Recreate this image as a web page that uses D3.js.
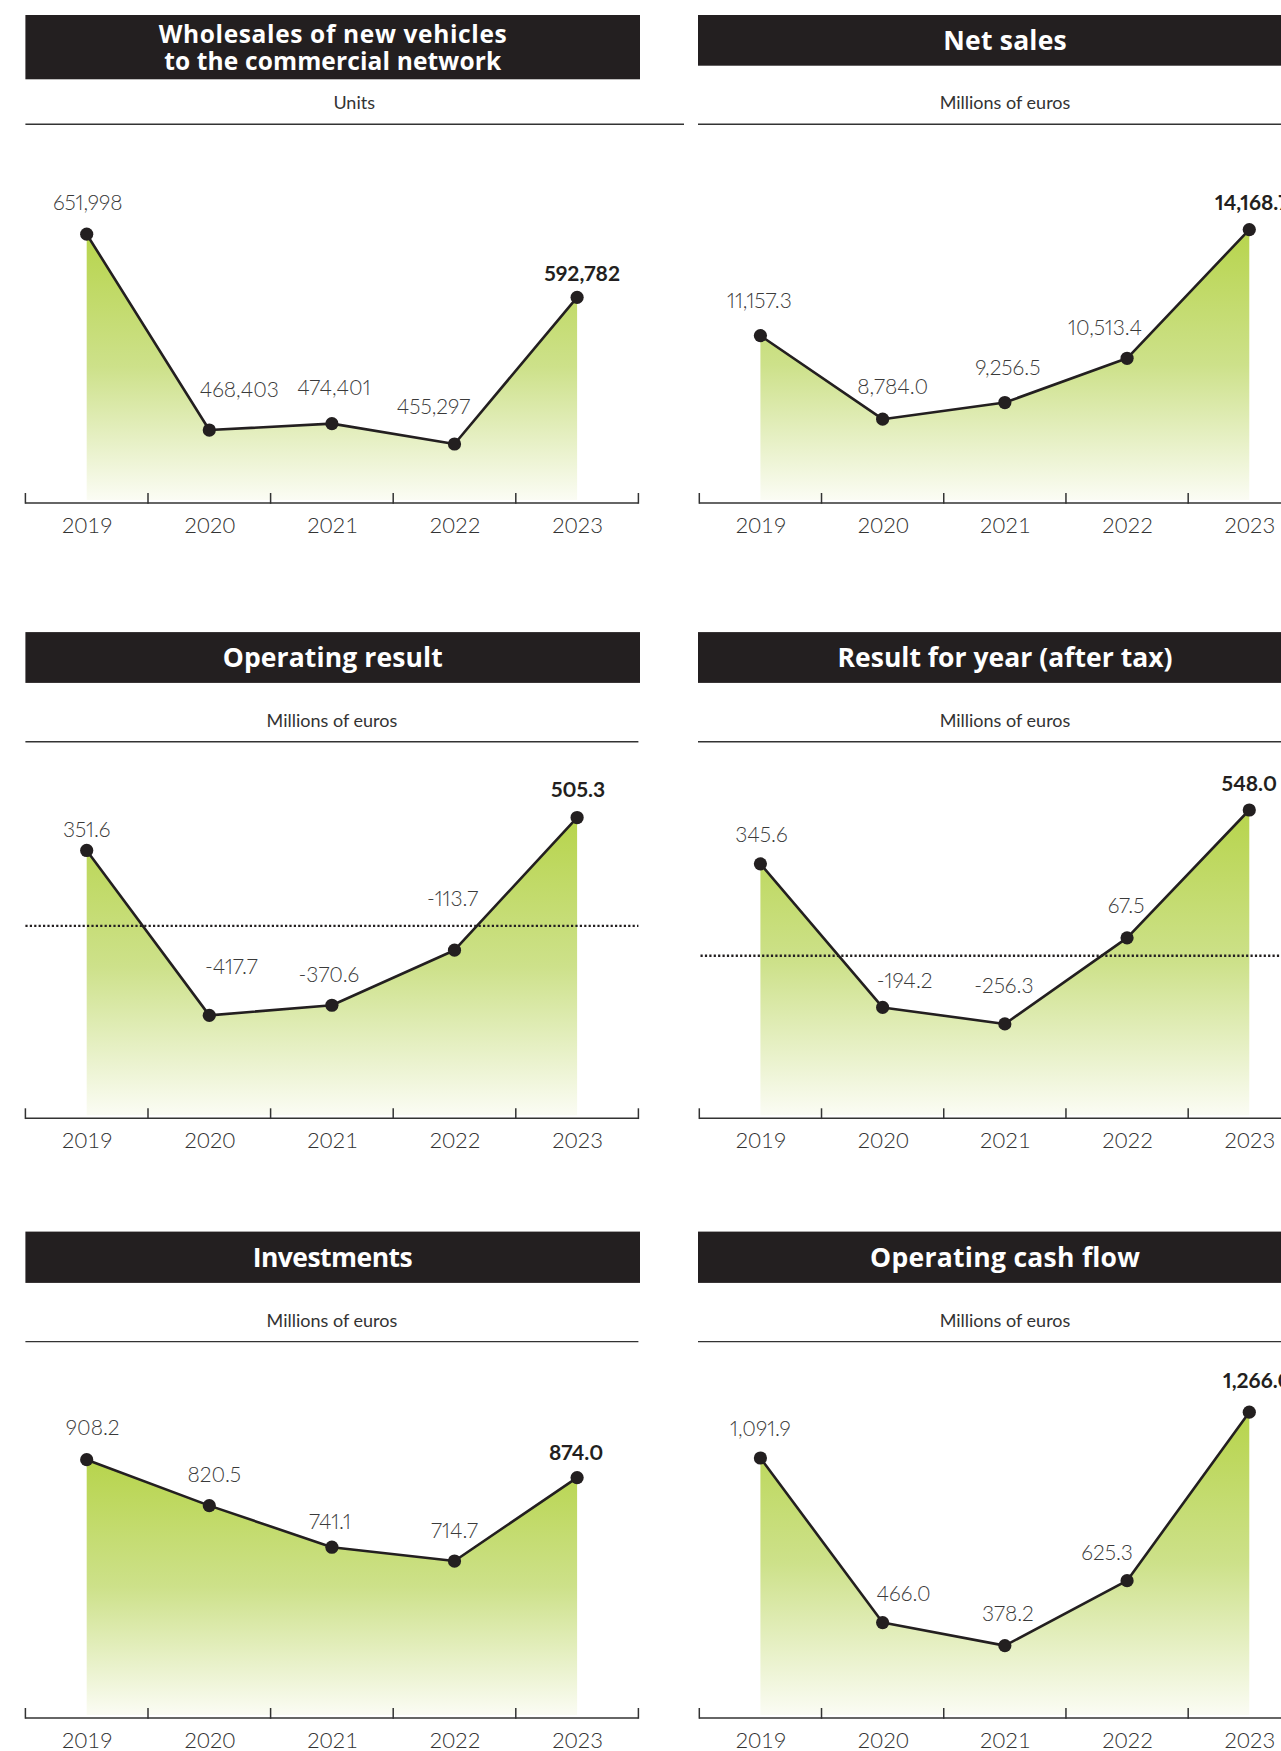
<!DOCTYPE html>
<html><head><meta charset="utf-8">
<script src="https://cdn.jsdelivr.net/npm/d3@7"></script>
<style>
html,body{margin:0;padding:0;background:#fff;overflow:hidden}
svg{display:block}
text{font-family:Lato,"Open Sans",sans-serif}
text.ttl{font-family:"Open Sans",Lato,sans-serif}
</style></head><body>
<svg id="c" width="1281" height="1751"></svg>
<script>
// ---------- data ----------
const years = ["2019", "2020", "2021", "2022", "2023"];
const titles = [
  ["Wholesales of new vehicles", "to the commercial network"],
  ["Net sales"],
  ["Operating result"],
  ["Result for year (after tax)"],
  ["Investments"],
  ["Operating cash flow"]
];
const unitLabels = ["Units", "Millions of euros", "Millions of euros", "Millions of euros", "Millions of euros", "Millions of euros"];
const wholesales = [651998, 468403, 474401, 455297, 592782];
const netSales = [11157.3, 8784.0, 9256.5, 10513.4, 14168.7];
const operatingResult = [351.6, -417.7, -370.6, -113.7, 505.3];
const resultAfterTax = [345.6, -194.2, -256.3, 67.5, 548.0];
const investments = [908.2, 820.5, 741.1, 714.7, 874.0];
const operatingCashFlow = [1091.9, 466.0, 378.2, 625.3, 1266.0];
const seriesList = [wholesales, netSales, operatingResult, resultAfterTax, investments, operatingCashFlow];
const valueFormats = [",", ",.1f", ",.1f", ",.1f", ",.1f", ",.1f"];
const yDomains = [[400000, 700000], [6403, 15492], [-898, 595], [-611, 592], [415, 1026], [103, 1320]];
const showZeroLine = [false, false, true, true, false, false];

// ---------- layout (not data) ----------
const cols = [
  {x0: 25.4, x1: 638.4, bx0: 25.4, bx1: 640, sx1: 638.4},
  {x0: 699.3, x1: 1310.4, bx0: 698, bx1: 1312, sx1: 1312}
];
const rows = [
  {barTop: 15, barBot: 65.7, sub: 109, sep: 124.3, base: 503, top: 183},
  {barTop: 632.1, barBot: 682.9, sub: 726.5, sep: 741.8, base: 1118.3, top: 798.3},
  {barTop: 1231.6, barBot: 1282.9, sub: 1326.5, sep: 1341.6, base: 1718, top: 1398}
];
const titleWidths = [[348, 337], [123.5], [220], [335], [160], [270]];
// label centre offsets relative to each point
const labelOffsets = [
  [[1, -32], [30, -41], [2, -36], [-21, -38], [5, -24]],
  [[-1, -35], [10, -33], [3, -35], [-22, -31], [3, -27]],
  [[0, -21], [22, -49], [-3, -31], [-2, -52], [1, -28]],
  [[1, -29], [22, -27], [-1, -38], [-1, -32], [0, -27]],
  [[6, -32], [5, -31], [-2, -26], [0, -31], [-1, -25]],
  [[0, -29], [21, -29], [3, -32], [-20, -28], [8, -32]]
];

const INK = "#231f20";
const loc = d3.formatLocale({decimal: ".", thousands: ",", grouping: [3], currency: ["", ""], minus: "-"});
const svg = d3.select("#c");
const defs = svg.append("defs");

seriesList.forEach((vals, i) => {
  const c = cols[i % 2], r = rows[Math.floor(i / 2)];
  const g = svg.append("g");
  const twoLine = titles[i].length > 1;
  const barBot = twoLine ? 79.3 : r.barBot;

  // title bar
  g.append("rect").attr("x", c.bx0).attr("y", r.barTop)
    .attr("width", c.bx1 - c.bx0).attr("height", barBot - r.barTop).attr("fill", INK);
  const tcx = (c.bx0 + c.bx1) / 2;
  const tBases = twoLine ? [42.5, 70] : [(r.barTop + r.barBot) / 2 + 9.5];
  titles[i].forEach((t, k) => {
    g.append("text").attr("class", "ttl").attr("x", tcx).attr("y", tBases[k])
      .attr("text-anchor", "middle").attr("fill", "#fff")
      .attr("font-weight", 700).attr("font-size", twoLine ? 24.5 : 26.5)
      .attr("textLength", titleWidths[i][k]).attr("lengthAdjust", "spacing")
      .text(t);
  });

  // subtitle + separator
  const sepX1 = i === 0 ? 684 : c.sx1;
  g.append("text").attr("x", (c.bx0 + sepX1) / 2 - (i === 0 ? 0.5 : 0)).attr("y", r.sub)
    .attr("text-anchor", "middle").attr("fill", "#333").attr("font-size", 18)
    .text(unitLabels[i]);
  g.append("line").attr("x1", c.bx0).attr("x2", sepX1).attr("y1", r.sep).attr("y2", r.sep)
    .attr("stroke", "#333").attr("stroke-width", 1.4);

  // scales
  const xb = d3.scaleBand().domain(years).range([c.x0, c.x1]);
  const xp = d => xb(d) + xb.bandwidth() / 2;
  const y = d3.scaleLinear().domain(yDomains[i]).range([r.base, r.top]);
  const pts = years.map((yr, j) => ({yr, v: vals[j], j}));

  // gradient area
  const gid = "grad" + i;
  const lg = defs.append("linearGradient").attr("id", gid)
    .attr("x1", 0).attr("y1", 0).attr("x2", 0).attr("y2", 1);
  lg.append("stop").attr("offset", "0%").attr("stop-color", "#b7d44c");
  lg.append("stop").attr("offset", "50%").attr("stop-color", "#cde18a");
  lg.append("stop").attr("offset", "100%").attr("stop-color", "#fbfcf4");
  g.append("path").datum(pts)
    .attr("d", d3.area().x(d => xp(d.yr)).y0(r.base - 3).y1(d => y(d.v)))
    .attr("fill", `url(#${gid})`);

  // zero line
  if (showZeroLine[i]) {
    g.append("line").attr("x1", c.x0 + (i % 2 ? 1.2 : 0)).attr("x2", c.x1)
      .attr("y1", y(0)).attr("y2", y(0))
      .attr("stroke", INK).attr("stroke-width", 2.4).attr("stroke-dasharray", "2.2,2.2");
  }

  // axis
  const ax = g.append("g").attr("transform", `translate(0,${r.base})`);
  ax.append("line").attr("x1", c.x0).attr("x2", c.x1).attr("y1", 0).attr("y2", 0)
    .attr("stroke", "#333").attr("stroke-width", 1.5);
  const tickXs = years.map(d => xb(d)).concat([c.x1]);
  ax.selectAll("line.tk").data(tickXs).join("line").attr("class", "tk")
    .attr("x1", d => d).attr("x2", d => d).attr("y1", 0.75).attr("y2", -10)
    .attr("stroke", "#333").attr("stroke-width", 1.5);
  const xPoint = d3.scalePoint().domain(years).range([xp(years[0]), xp(years[4])]);
  const labAx = g.append("g").attr("transform", `translate(0,${r.base})`)
    .call(d3.axisBottom(xPoint).tickSize(0));
  labAx.select(".domain").remove();
  labAx.selectAll("text").attr("y", 30).attr("dy", null)
    .style("font-family", "Lato").attr("font-weight", 300).attr("font-size", 22)
    .attr("fill", "#333");

  // line + points
  g.append("path").datum(pts)
    .attr("d", d3.line().x(d => xp(d.yr)).y(d => y(d.v)))
    .attr("fill", "none").attr("stroke", INK).attr("stroke-width", 2.6).attr("stroke-linejoin", "round");
  g.selectAll("circle").data(pts).join("circle")
    .attr("cx", d => xp(d.yr)).attr("cy", d => y(d.v)).attr("r", 6.6).attr("fill", INK);

  // value labels
  const fmt = loc.format(valueFormats[i]);
  g.selectAll("text.val").data(pts).join("text").attr("class", "val")
    .attr("x", d => xp(d.yr) + labelOffsets[i][d.j][0])
    .attr("y", d => y(d.v) + labelOffsets[i][d.j][1] + 7.5)
    .attr("text-anchor", "middle")
    .attr("font-size", 21)
    .attr("font-weight", d => d.j === 4 ? 700 : 300)
    .attr("fill", d => d.j === 4 ? INK : "#3a3a3a")
    .style("font-variant-numeric", "proportional-nums")
    .text(d => fmt(d.v));
});
</script>
</body></html>
